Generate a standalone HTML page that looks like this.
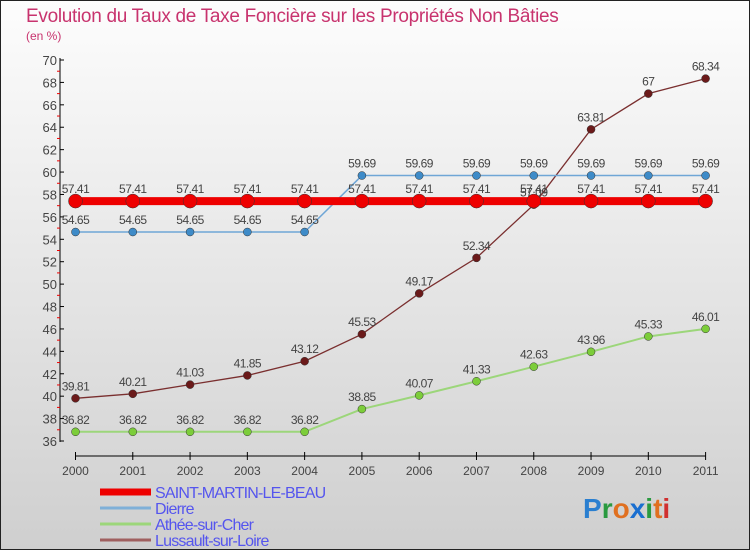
<!DOCTYPE html>
<html><head><meta charset="utf-8"><style>
body{margin:0}
#c{width:750px;height:550px;position:relative;overflow:hidden;box-sizing:border-box;border:1px solid #222;background:linear-gradient(#fdfdfd,#cfcfcf);font-family:"Liberation Sans",sans-serif}
</style></head><body>
<div id="c">
<svg width="750" height="550" id="s" style="position:absolute;left:-1px;top:-1px"></svg>
</div>
<script>
const years=["2000","2001","2002","2003","2004","2005","2006","2007","2008","2009","2010","2011"];
const yTicks=[36,38,40,42,44,46,48,50,52,54,56,58,60,62,64,66,68,70];
const stMartin=[57.41,57.41,57.41,57.41,57.41,57.41,57.41,57.41,57.41,57.41,57.41,57.41];
const dierre=[54.65,54.65,54.65,54.65,54.65,59.69,59.69,59.69,59.69,59.69,59.69,59.69];
const athee=[36.82,36.82,36.82,36.82,36.82,38.85,40.07,41.33,42.63,43.96,45.33,46.01];
const lussault=[39.81,40.21,41.03,41.85,43.12,45.53,49.17,52.34,57.09,63.81,67,68.34];
const seriesNames=["SAINT-MARTIN-LE-BEAU","Dierre","Athée-sur-Cher","Lussault-sur-Loire"];
const s=document.getElementById('s');const NS='http://www.w3.org/2000/svg';
function el(t,a,txt,p){const e=document.createElementNS(NS,t);for(const k in a)e.setAttribute(k,a[k]);if(txt!==undefined)e.textContent=txt;(p||s).appendChild(e);return e;}
const X=i=>75.5+i*(705.6-75.5)/(years.length-1);
const Y=v=>441+(v-36)*(60-441)/34;
let e;
e=el('text',{x:26,y:22,fill:'#c8336e','font-size':19,'letter-spacing':'-0.3'},'Evolution du Taux de Taxe Foncière sur les Propriétés Non Bâties');


e=el('text',{x:26,y:40,fill:'#c8336e','font-size':12},'(en %)');


e=el('line',{x1:60,y1:58,x2:60,y2:442,stroke:'#000'});


yTicks.forEach((t,i)=>{const y=Y(t);
 e=el('line',{x1:60,y1:y,x2:64,y2:y,stroke:'#000'});
 
 
 if(i<yTicks.length-1){e=el('line',{x1:57,y1:Y(t+1),x2:60,y2:Y(t+1),stroke:'#e00'});
 
 }
 e=el('text',{x:57,y:y+5,'text-anchor':'end','font-size':13,fill:'#444'},String(t));
 
 
});
e=el('line',{x1:X(0),y1:456,x2:X(11),y2:456,stroke:'#000'});


years.forEach((yr,i)=>{
 e=el('line',{x1:X(i),y1:452,x2:X(i),y2:460,stroke:'#000'});
 
 
 e=el('text',{x:X(i),y:475,'text-anchor':'middle','font-size':12,fill:'#444'},yr);
 
 
});
function series(data,color,dot,w,r,name){
 e=el('polyline',{points:data.map((v,i)=>X(i)+','+Y(v)).join(' '),fill:'none',stroke:color,'stroke-width':w});
 
 
 data.forEach((v,i)=>{
  e=el('circle',{cx:X(i),cy:Y(v),r:r,fill:dot,stroke:'#333','stroke-width':0.5});
  
  
  e=el('text',{x:X(i),y:Y(v)-8,'text-anchor':'middle','font-size':12,fill:'#444','letter-spacing':'-0.5'},String(v));
  
  
 });
}
series(athee,'#9cd67a','#7ccd3a',2,4,'athee');
series(lussault,'#7a2f2f','#6b1a1a',1.3,4,'lussault');
series(dierre,'#6fa6d6','#3e8bc8',1.5,4,'dierre');
series(stMartin,'#ee0000','#ee0000',8,7,'saint-martin');
const lc=['#ee0000','#7fb0d8','#9cd67a','#a06060'],lw=[7,3,3,3],ly=[492,508,524,540];
seriesNames.forEach((n,i)=>{
 e=el('line',{x1:100,y1:ly[i],x2:151,y2:ly[i],stroke:lc[i],'stroke-width':lw[i]});
 
 
 e=el('text',{x:155,y:ly[i]+6,'font-size':16,fill:'#5555ee','letter-spacing':'-0.8'},n);
 
 
});
const logo=el('text',{x:583,y:518,'font-size':28,'font-weight':'bold'});


[['P','#2a7fd0'],['r','#2a9a40'],['o','#e07020'],['x','#1a6fd0'],['i','#2a9a40'],['t','#e07020'],['i','#d03030']].forEach(([c,f])=>el('tspan',{fill:f},c,logo));
</script>
</body></html>
